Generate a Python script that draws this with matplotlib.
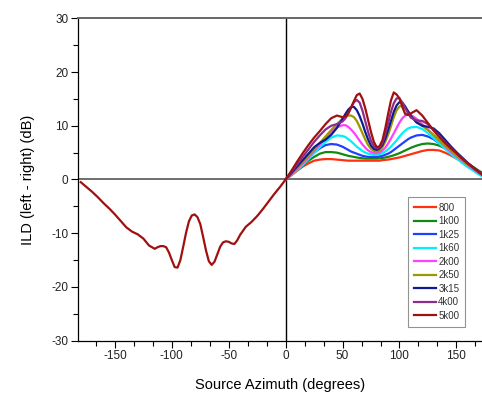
import matplotlib
matplotlib.use('Agg')
import matplotlib.pyplot as plt
from matplotlib.ticker import MultipleLocator

plt.rcParams['font.family'] = ['Liberation Sans', 'DejaVu Sans']
plt.rcParams['axes.unicode_minus'] = False

# azimuth (deg) for the left half, only 5k00 shown there
az_left = [-180, -175, -170, -165, -160, -155, -150, -145, -140, -135, -130, -125, -120,
           -115, -112.5, -110, -107.5, -105, -102.5, -100, -97.5, -95, -92.5, -90, -87.5,
           -85, -82.5, -80, -77.5, -75, -72.5, -70, -67.5, -65, -62.5, -60, -57.5, -55,
           -52.5, -50, -47.5, -45, -42.5, -40, -35, -30, -25, -20, -15, -10, -5, 0]
ild_left_5k00 = [-0.5, -1.4, -2.3, -3.3, -4.4, -5.4, -6.5, -7.7, -8.9, -9.7, -10.2, -11.0, -12.3,
                 -12.9, -12.6, -12.4, -12.4, -12.6, -13.6, -15.0, -16.3, -16.4, -15.0, -12.5, -9.9,
                 -7.8, -6.7, -6.5, -7.0, -8.3, -10.7, -13.2, -15.2, -15.9, -15.3, -13.9, -12.5, -11.7,
                 -11.5, -11.6, -11.9, -12.0, -11.3, -10.3, -8.8, -7.9, -6.8, -5.5, -4.1, -2.7, -1.4, 0.0]

# azimuth (deg) for the right half, all bands
az_right = [0, 5, 10, 15, 20, 25, 30, 35, 40, 45,
            50, 52.5, 55, 57.5, 60, 62.5, 65, 67.5, 70, 72.5, 75, 77.5, 80, 82.5, 85, 87.5,
            90, 92.5, 95, 97.5, 100, 102.5, 105, 107.5, 110,
            115, 120, 125, 130, 135, 140, 145, 150, 155, 160, 165, 170, 175]

ild_800 = [0, 0.8, 1.6, 2.4, 3.0, 3.5, 3.7, 3.8, 3.8, 3.7,
           3.6, 3.55, 3.5, 3.5, 3.5, 3.5, 3.5, 3.5, 3.5, 3.5, 3.5, 3.5, 3.5, 3.5, 3.6, 3.65,
           3.7, 3.8, 3.9, 4.0, 4.1, 4.25, 4.4, 4.55, 4.7,
           5.0, 5.3, 5.5, 5.5, 5.4, 5.0, 4.5, 3.9, 3.3, 2.7, 2.1, 1.5, 0.9]
ild_1k00 = [0, 0.9, 1.8, 2.7, 3.5, 4.2, 4.8, 5.1, 5.1, 5.0,
            4.7, 4.55, 4.4, 4.3, 4.2, 4.1, 4.0, 3.95, 3.9, 3.9, 3.9, 3.9, 3.9, 3.95, 4.0, 4.1,
            4.2, 4.35, 4.5, 4.7, 4.9, 5.15, 5.4, 5.65, 5.9,
            6.3, 6.6, 6.7, 6.6, 6.3, 5.8, 5.1, 4.4, 3.7, 3.0, 2.3, 1.6, 0.9]
ild_1k25 = [0, 1.0, 2.0, 3.0, 4.0, 5.0, 5.8, 6.4, 6.6, 6.5,
            6.1, 5.8, 5.5, 5.2, 5.0, 4.8, 4.6, 4.4, 4.3, 4.2, 4.2, 4.2, 4.2, 4.3, 4.4, 4.6,
            4.8, 5.1, 5.5, 5.9, 6.3, 6.7, 7.1, 7.5, 7.8,
            8.2, 8.3, 8.0, 7.5, 6.7, 5.8, 5.0, 4.2, 3.4, 2.7, 2.0, 1.3, 0.6]
ild_1k60 = [0, 0.8, 1.7, 2.7, 3.8, 4.9, 6.0, 7.0, 7.8, 8.2,
            8.1, 7.9, 7.5, 7.1, 6.6, 6.1, 5.7, 5.3, 5.0, 4.8, 4.7, 4.6, 4.6, 4.7, 4.9, 5.2,
            5.6, 6.1, 6.7, 7.3, 8.0, 8.6, 9.1, 9.5, 9.7,
            9.8, 9.4, 8.6, 7.7, 6.7, 5.7, 4.8, 3.9, 3.1, 2.3, 1.6, 0.9, 0.3]
ild_2k00 = [0, 0.9, 1.9, 3.0, 4.1, 5.3, 6.5, 7.7, 8.8, 9.7,
            10.1, 10.1, 9.8, 9.3, 8.7, 8.0, 7.2, 6.5, 5.9, 5.4, 5.1, 4.9, 4.9, 5.0, 5.4, 5.9,
            6.7, 7.6, 8.6, 9.6, 10.6, 11.4, 11.9, 12.1, 12.0,
            11.3, 10.3, 9.3, 8.2, 7.2, 6.2, 5.2, 4.3, 3.5, 2.7, 1.9, 1.2, 0.5]
ild_2k50 = [0, 1.0, 2.1, 3.2, 4.4, 5.6, 6.8, 8.0, 9.2, 10.3,
            11.3, 11.7, 11.9, 11.9, 11.6, 10.9, 9.8, 8.6, 7.4, 6.4, 5.7, 5.3, 5.2, 5.4, 6.0, 7.0,
            8.3, 9.9, 11.6, 12.9, 13.6, 13.7, 13.3, 12.7, 12.0,
            10.9, 10.0, 9.2, 8.3, 7.3, 6.3, 5.4, 4.5, 3.6, 2.8, 2.0, 1.3, 0.5]
ild_3k15 = [0, 1.2, 2.4, 3.6, 4.8, 6.0, 6.8, 7.4, 8.3, 9.6,
            11.3, 12.2, 13.0, 13.5, 13.5, 12.9, 11.8, 10.4, 8.8, 7.4, 6.3, 5.7, 5.5, 5.8, 6.4, 7.6,
            9.2, 10.9, 12.6, 13.8, 14.4, 14.3, 13.6, 12.7, 11.8,
            10.6, 10.0, 9.8, 9.5, 8.6, 7.4, 6.2, 5.1, 4.1, 3.1, 2.2, 1.3, 0.5]
ild_4k00 = [0, 1.4, 2.8, 4.2, 5.6, 7.0, 8.2, 9.3, 10.0, 10.3,
            10.8, 11.4, 12.3, 13.4, 14.4, 14.8, 14.3, 12.8, 10.8, 8.8, 7.2, 6.2, 5.8, 6.0, 6.8, 8.4,
            10.5, 12.6, 14.2, 15.1, 15.1, 14.3, 13.3, 12.3, 11.5,
            11.0, 10.9, 10.3, 9.2, 8.0, 6.9, 5.9, 4.9, 3.9, 3.0, 2.1, 1.3, 0.5]
ild_5k00 = [0, 1.6, 3.3, 4.9, 6.4, 7.8, 9.0, 10.3, 11.4, 11.9,
            11.6, 11.7, 12.3, 13.4, 14.6, 15.7, 16.0, 15.0, 13.2, 11.0, 8.8, 7.0, 6.0, 6.2, 7.3, 9.5,
            12.2, 14.7, 16.2, 15.8, 15.1, 13.5, 12.2, 12.0, 12.3,
            12.9, 11.9, 10.5, 9.1, 7.9, 6.8, 5.8, 4.9, 3.9, 3.0, 2.2, 1.4, 0.6]

labels = ['800', '1k00', '1k25', '1k60', '2k00', '2k50', '3k15', '4k00', '5k00']
series = [ild_800, ild_1k00, ild_1k25, ild_1k60, ild_2k00, ild_2k50, ild_3k15, ild_4k00, ild_5k00]
colors = ['#ff3010', '#108a10', '#2040ff', '#00f0ff', '#ff40ff', '#9a9a00', '#101a90', '#8c2c8c', '#a01010']

fig = plt.figure(figsize=(4.82, 4.01), dpi=100)
ax = fig.add_axes([0.1624, 0.1504, 0.8376, 0.804])

# reference lines through the origin
ax.axhline(0, color='#555555', lw=1.2, zorder=1)
ax.axvline(0, color='black', lw=1.0, zorder=1)

for vals, lab, col in zip(series, labels, colors):
    ax.plot(az_right, vals, color=col, lw=1.6, label=lab, zorder=2)
ax.plot(az_left, ild_left_5k00, color=colors[-1], lw=1.6, zorder=2)

ax.set_xlim(-182.2, 172.5)
ax.set_ylim(-30, 30)
ax.xaxis.set_major_locator(MultipleLocator(50))
ax.xaxis.set_minor_locator(MultipleLocator(50 / 3))
ax.yaxis.set_major_locator(MultipleLocator(10))
ax.yaxis.set_minor_locator(MultipleLocator(5))

ax.spines['right'].set_visible(False)
ax.spines['top'].set_color('#666666')
ax.spines['top'].set_linewidth(1.4)
ax.spines['left'].set_linewidth(0.9)
ax.spines['bottom'].set_linewidth(0.9)
ax.tick_params(which='major', direction='out', length=5, width=0.8, labelsize=8.5,
               labelcolor='#222222', pad=2)
ax.tick_params(which='minor', direction='out', length=3.5, width=0.8)
ax.tick_params(top=False, right=False, which='both')

ax.set_xlabel('Source Azimuth (degrees)', fontsize=10.5, labelpad=11)
ax.set_ylabel('ILD (left - right) (dB)', fontsize=10.5, labelpad=12)

leg = ax.legend(loc='upper left', bbox_to_anchor=(0.817, 0.446), fontsize=7,
                frameon=True, fancybox=False, handlelength=2.3, handletextpad=0.2,
                labelspacing=0.36, borderpad=0.6, borderaxespad=0)
leg.get_frame().set_edgecolor('#777777')
leg.get_frame().set_linewidth(0.8)
for t in leg.get_texts():
    t.set_color('#333333')

fig.savefig('out.png', dpi=100)
